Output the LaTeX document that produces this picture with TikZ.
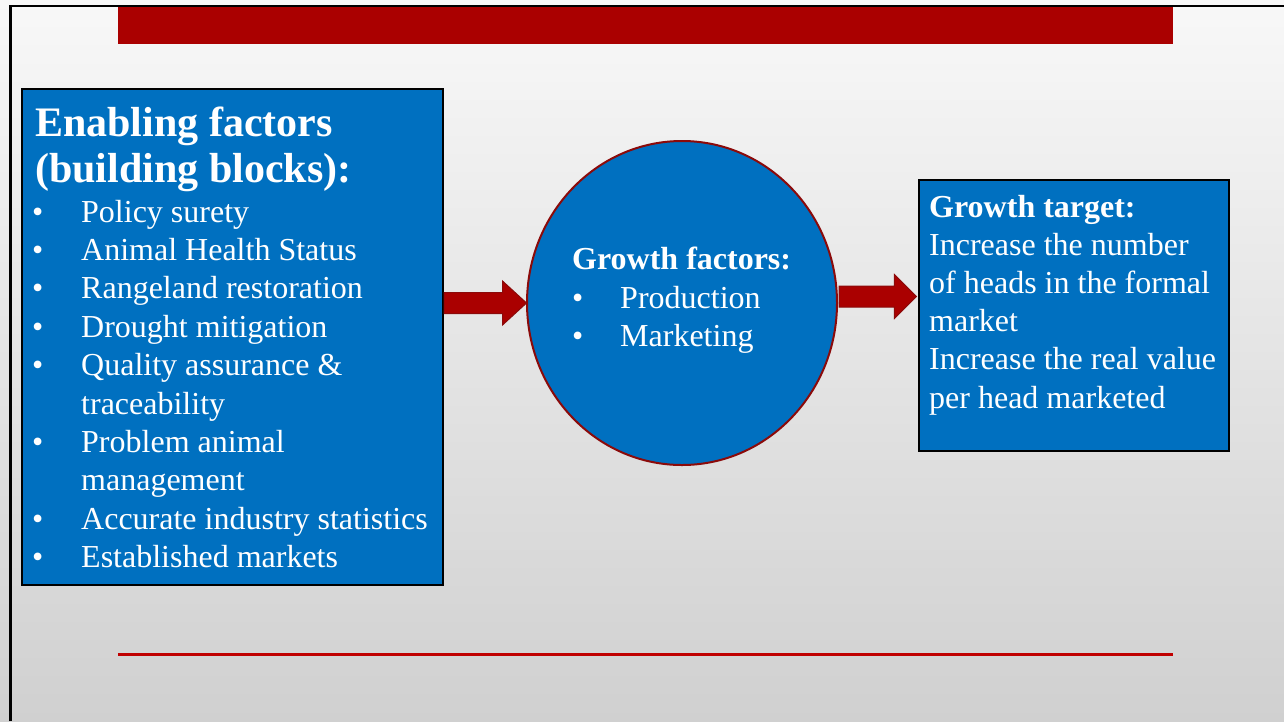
\documentclass[tikz,border=0pt]{standalone}
\usepackage{fontspec}
\setmainfont{Liberation Serif}
\usetikzlibrary{shapes.geometric,calc}
\definecolor{bannerred}{HTML}{AA0000}
\definecolor{linered}{HTML}{C00000}
\definecolor{edgered}{HTML}{8B0A0A}
\definecolor{boxblue}{HTML}{0070C0}
\definecolor{bgtop}{HTML}{F8F8F8}
\definecolor{bgmid}{HTML}{E9E9E9}
\definecolor{bgbot}{HTML}{D0D0D0}
\tikzset{
  bluebox/.style={draw=black, line width=2.2pt, fill=boxblue, rectangle, inner sep=0pt},
  blueoval/.style={draw=edgered, line width=2pt, fill=boxblue, ellipse, inner sep=0pt},
  txt/.style={anchor=base west, inner sep=0pt, text=white, font=\fontsize{32}{38.4}\selectfont},
  bigtxt/.style={anchor=base west, inner sep=0pt, text=white, font=\fontsize{42}{46}\selectfont\bfseries},
  boldtxt/.style={anchor=base west, inner sep=0pt, text=white, font=\fontsize{32}{38.4}\selectfont\bfseries},
  blockarrow/.style={fill=bannerred, draw=edgered, line width=1pt, line join=miter}
}
\begin{document}
\begin{tikzpicture}[x=1pt,y=-1pt]
\useasboundingbox (0,0) rectangle (1284,721);
% background
\shade[top color=bgtop, middle color=bgmid, bottom color=bgbot] (0,0) rectangle (1284,721);
% frame
\draw[black, line width=2.5pt] (10.5,721) -- (10.5,6) -- (1284,6);
% banner and rule
\node[fill=bannerred, draw=none, minimum width=1055pt, minimum height=37pt, inner sep=0pt, anchor=north west] (banner) at (118,7) {};
\coordinate (r1) at (118,654);
\coordinate (r2) at (1173,654);
\draw[linered, line width=3pt] (r1) -- (r2);
% shapes
\node[bluebox, minimum width=421pt, minimum height=496pt] (lb) at (232.5,337) {};
\node[blueoval, minimum width=310pt, minimum height=324pt] (c) at (682,303) {};
\node[bluebox, minimum width=310pt, minimum height=271pt] (rb) at (1074,315.5) {};
% arrow 1
\coordinate (s1) at (lb.east |- c.west);
\coordinate (t1) at ($(c.west)+(0.5,0)$);
\draw[blockarrow] ($(s1)+(0,-10.5)$) -- ($(t1)+(-24,-10.5)$) -- ($(t1)+(-24,-22)$) -- (t1)
  -- ($(t1)+(-24,22)$) -- ($(t1)+(-24,10.5)$) -- ($(s1)+(0,10.5)$) -- cycle;
% arrow 2
\coordinate (s2) at ($(c.east |- 0,296.5)+(1,0)$);
\coordinate (t2) at ($(rb.west |- 0,296.5)+(-1.5,0)$);
\draw[blockarrow] ($(s2)+(0,-10.5)$) -- ($(t2)+(-22,-10.5)$) -- ($(t2)+(-22,-22)$) -- (t2)
  -- ($(t2)+(-22,22)$) -- ($(t2)+(-22,10.5)$) -- ($(s2)+(0,10.5)$) -- cycle;
% left box text
\node[bigtxt] (h1) at (35,136) {Enabling factors};
\node[bigtxt] (h2) at (35,182) {(building blocks):};
\foreach \k/\t in {0/Policy surety,1/Animal Health Status,2/Rangeland restoration,3/Drought mitigation,4/Quality assurance \&,5/traceability,6/Problem animal,7/management,8/Accurate industry statistics,9/Established markets}{
  \node[txt] (l\k) at (81,222+38.4*\k) {\t};
}
\foreach \k in {0,1,2,3,4,6,8,9}{
  \node[txt] (b\k) at (32,222+38.4*\k) {•};
}
% circle text
\node[boldtxt] (ch) at (572,269) {Growth factors:};
\node[txt] (cb1) at (572,308) {•};
\node[txt] (ct1) at (620,308) {Production};
\node[txt] (cb2) at (572,346.4) {•};
\node[txt] (ct2) at (620,346.4) {Marketing};
% right box text
\node[boldtxt] (rh) at (929,217) {Growth target:};
\foreach \k/\t in {1/Increase the number,2/of heads in the formal,3/market,4/Increase the real value,5/per head marketed}{
  \node[txt] (r\k) at (929,217+38.2*\k) {\t};
}
\end{tikzpicture}
\end{document}
